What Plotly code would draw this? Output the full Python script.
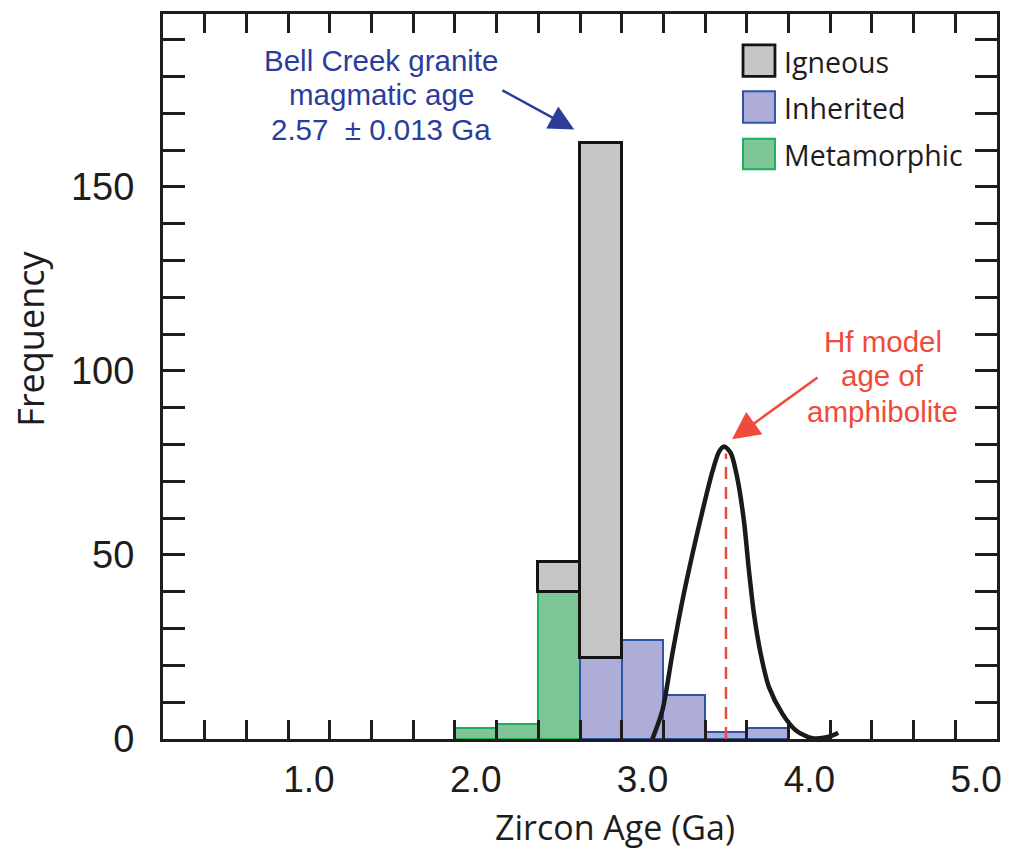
import plotly.graph_objects as go

# ---------------- data ----------------
bin_centers = [2.0, 2.25, 2.5, 2.75, 3.0, 3.25, 3.5, 3.75]
metamorphic = [3, 4, 40, None, None, None, None, None]
inherited = [None, None, None, 22, 27, 12, 2, 3]
igneous = [None, None, 8, 140, None, None, None, None]
bin_width = 0.25

# Hf model age curve of amphibolite
hf_x = [3.059, 3.119, 3.179, 3.239, 3.299, 3.359, 3.419, 3.459, 3.489, 3.529,
        3.568, 3.608, 3.638, 3.668, 3.708, 3.758, 3.838, 3.918, 4.017, 4.117, 4.173]
hf_y = [0.0, 7.8, 23.2, 37.6, 50.2, 61.9, 72.7, 78.1, 79.5, 77.7,
        70.9, 59.2, 45.7, 34.0, 23.2, 14.1, 6.9, 2.4, 0.2, 0.6, 1.7]
hf_age = 3.5
hf_line_top = 77.6

x_tick_vals = [1, 2, 3, 4, 5]
x_tick_text = ["1.0", "2.0", "3.0", "4.0", "5.0"]
y_tick_vals = [0, 50, 100, 150]
y_tick_text = ["0", "50", "100", "150"]

magmatic_lines = ["Bell Creek granite", "magmatic age", "2.57  \u00b1 0.013 Ga"]
hf_lines = ["Hf model", "age of", "amphibolite"]
legend_names = ["Igneous", "Inherited", "Metamorphic"]

# ---------------- styles ----------------
W, H = 1013, 850
PL, PR, PT, PB = 163.3, 998.3, 10.7, 739.0
INK = "#1e1c1c"
GREY_FILL, GREY_LINE = "#c6c6c6", "#141414"
BLUE_FILL, BLUE_LINE = "#adadd8", "#2c55a8"
GREEN_FILL, GREEN_LINE = "#7ec697", "#20ad58"
BLUE_TXT = "#2a3d9c"
RED_TXT = "#f04b3a"
SANS = "Liberation Sans, Arial, sans-serif"
HUMAN = "Open Sans, sans-serif"


def pxx(px):
    return (px - PL) / (PR - PL)


def pxy(py):
    return (PB - py) / (PB - PT)


fig = go.Figure()
fig.add_trace(go.Bar(x=bin_centers, y=metamorphic, width=bin_width, name="Metamorphic",
                     marker=dict(color=GREEN_FILL, line=dict(color=GREEN_LINE, width=2)),
                     showlegend=False))
fig.add_trace(go.Bar(x=bin_centers, y=inherited, width=bin_width, name="Inherited",
                     marker=dict(color=BLUE_FILL, line=dict(color=BLUE_LINE, width=2)),
                     showlegend=False))
fig.add_trace(go.Bar(x=bin_centers, y=igneous, width=bin_width, name="Igneous",
                     marker=dict(color=GREY_FILL, line=dict(color=GREY_LINE, width=2.8)),
                     showlegend=False))
fig.add_trace(go.Scatter(x=[hf_age, hf_age], y=[0, hf_line_top], mode="lines",
                         line=dict(color=RED_TXT, width=2.5, dash="12px,8px"),
                         showlegend=False, hoverinfo="skip"))
fig.add_trace(go.Scatter(x=hf_x, y=hf_y, mode="lines",
                         line=dict(color="#1a1a1a", width=4.5, shape="spline", smoothing=0.8),
                         showlegend=False))

fig.update_layout(
    width=W, height=H,
    margin=dict(l=PL, r=W - PR, t=PT, b=H - PB, pad=0),
    paper_bgcolor="white", plot_bgcolor="white",
    barmode="stack", bargap=0,
    showlegend=False,
    font=dict(family=SANS, color=INK),
)

fig.update_xaxes(
    range=[0.125, 5.125], showgrid=False, zeroline=False,
    showline=True, linecolor=INK, linewidth=3, mirror="allticks",
    tickvals=x_tick_vals, ticktext=x_tick_text, ticks="",
    tickfont=dict(family=SANS, size=37, color=INK),
    ticklabelstandoff=6,
    minor=dict(tickvals=[0.375 + 0.25 * k for k in range(19)], ticks="inside",
               ticklen=19, tickwidth=2.5, tickcolor=INK, showgrid=False),
)
fig.update_yaxes(
    range=[0, 197], showgrid=False, zeroline=False,
    showline=True, linecolor=INK, linewidth=3, mirror="allticks",
    tickvals=y_tick_vals, ticktext=y_tick_text, ticks="inside",
    ticklen=22, tickwidth=2.5, tickcolor=INK,
    tickfont=dict(family=SANS, size=38, color=INK),
    ticklabelstandoff=18,
    minor=dict(tickvals=[v for v in range(10, 200, 10) if v % 50 != 0], ticks="inside",
               ticklen=22, tickwidth=2.5, tickcolor=INK, showgrid=False),
)

# axis titles
fig.add_annotation(text="Zircon Age (Ga)", xref="paper", yref="paper",
                   x=pxx(616), y=pxy(827), xanchor="center", yanchor="middle", showarrow=False,
                   font=dict(family=HUMAN, size=34, color=INK))
fig.add_annotation(text="Frequency", xref="paper", yref="paper", textangle=-90,
                   x=pxx(31), y=pxy(337), xanchor="center", yanchor="middle", showarrow=False,
                   font=dict(family=HUMAN, size=36, color=INK))

# blue annotation + arrow
for line, cy in zip(magmatic_lines, [57, 92, 127]):
    fig.add_annotation(text=line, xref="paper", yref="paper",
                       x=pxx(382), y=pxy(cy), xanchor="center", yanchor="middle",
                       showarrow=False,
                       font=dict(family=SANS, size=29.5, color=BLUE_TXT))
fig.add_annotation(text="", xref="paper", yref="paper", x=pxx(575), y=pxy(126.7),
                   ax=501.7 - 575, ay=86.7 - 126.7, showarrow=True,
                   arrowhead=2, arrowsize=2, arrowwidth=2.5, arrowcolor=BLUE_TXT, standoff=0)

# red annotation + arrow
for line, cy in zip(hf_lines, [340, 374, 410]):
    fig.add_annotation(text=line, xref="paper", yref="paper",
                       x=pxx(884), y=pxy(cy), xanchor="center", yanchor="middle",
                       showarrow=False,
                       font=dict(family=SANS, size=29.5, color=RED_TXT))
fig.add_annotation(text="", xref="paper", yref="paper", x=pxx(733), y=pxy(438),
                   ax=820 - 733, ay=375 - 438, showarrow=True,
                   arrowhead=2, arrowsize=2.2, arrowwidth=2.5, arrowcolor=RED_TXT, standoff=0)

# custom legend
leg_boxes = [(41.7, 73.3), (88.3, 120.0), (136.0, 166.7)]
leg_fill = [GREY_FILL, BLUE_FILL, GREEN_FILL]
leg_line = [GREY_LINE, BLUE_LINE, GREEN_LINE]
leg_lw = [2.8, 2, 2]
for name, (y0, y1), fc, lc, lw in zip(legend_names, leg_boxes, leg_fill, leg_line, leg_lw):
    fig.add_shape(type="rect", xref="paper", yref="paper",
                  x0=pxx(744), x1=pxx(776), y0=pxy(y1), y1=pxy(y0),
                  fillcolor=fc, line=dict(color=lc, width=lw))
    fig.add_annotation(text=name, xref="paper", yref="paper",
                       x=pxx(783), y=pxy((y0 + y1) / 2 + 1), xanchor="left", yanchor="middle",
                       showarrow=False,
                       font=dict(family=HUMAN, size=28.5, color=INK))

fig.write_html("out.html", config={"displayModeBar": False},
               post_script="document.body.style.margin='0';")
